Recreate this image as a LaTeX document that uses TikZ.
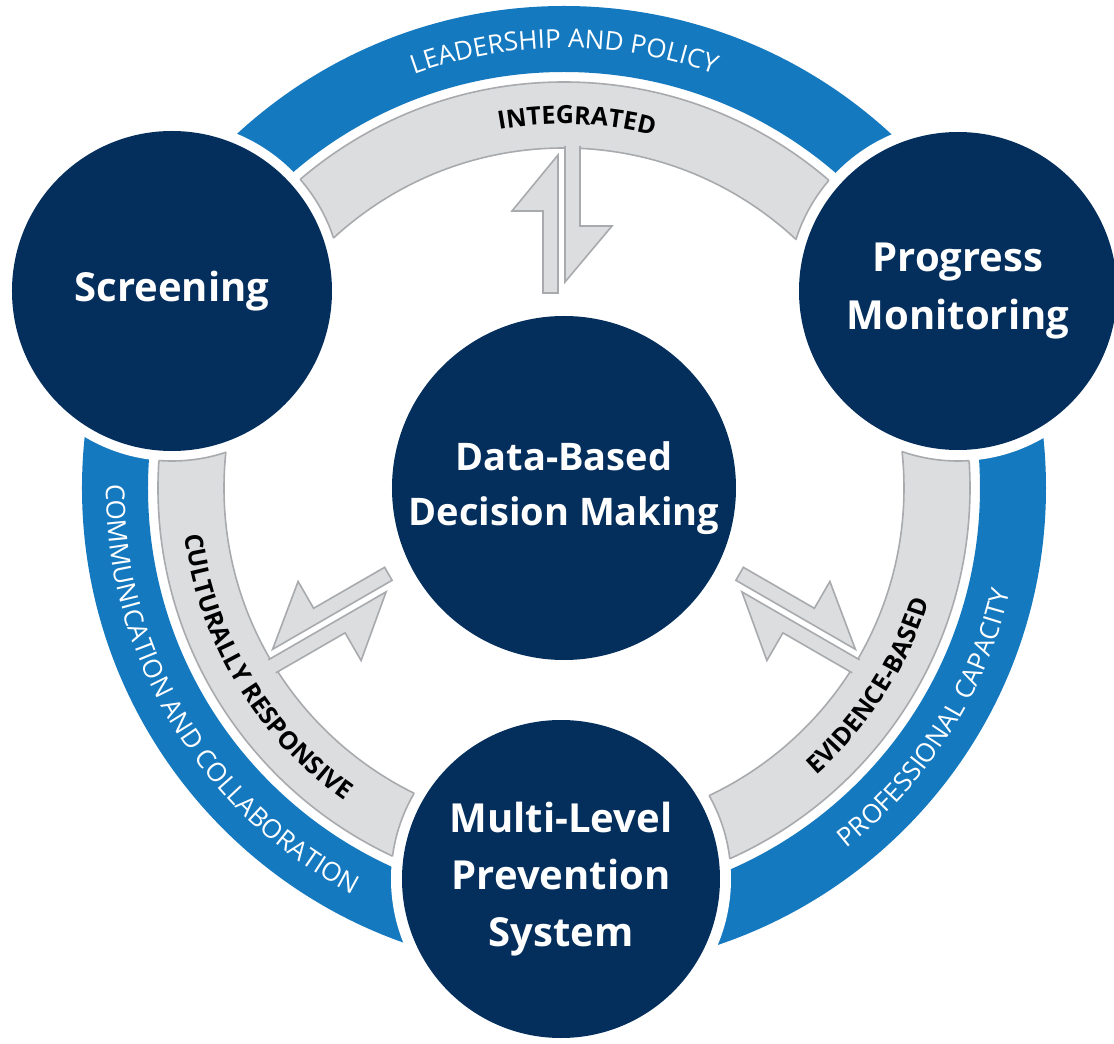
\documentclass[tikz,border=0pt]{standalone}
\usepackage{fontspec}
\setmainfont{Open Sans}
\usepackage{xcolor}
\usetikzlibrary{decorations.text}

\definecolor{azulescuro}{RGB}{4,47,93}
\definecolor{azulfaixa}{RGB}{21,121,192}
\definecolor{cinzafaixa}{RGB}{220,221,222}
\definecolor{cinzalinha}{RGB}{168,170,173}

\tikzset{
  circulo/.style={circle, fill=azulescuro, text=white, align=center, inner sep=0pt,
    font=\bfseries\fontsize{20}{29}\selectfont},
  faixacinza/.style={fill=cinzafaixa, draw=cinzalinha, line width=0.8pt},
  seta/.style={fill=cinzafaixa, draw=cinzalinha, line width=0.8pt},
  setadupla/.pic={
    % seta para fora
    \filldraw[seta] (195,6) -- (333,6) -- (277,52) -- (277,21) -- (195,21) -- cycle;
    % seta para dentro
    \filldraw[seta] (342,-1) -- (206,-1) -- (262,-48) -- (262,-16) -- (342,-16);
  },
}

\begin{document}
\begin{tikzpicture}[x=0.5pt, y=0.5pt]

% Fundo
\useasboundingbox (-564,-556) rectangle (550,488);
\fill[white] (-564,-556) rectangle (550,488);

% Faixa azul
\fill[azulfaixa, even odd rule] (0,0) circle (482) (0,0) circle (416);

% Faixa cinza
\filldraw[faixacinza, even odd rule] (0,0) circle (406) (0,0) circle (340);

% Textos da faixa azul
\path[decorate, decoration={text along path, text align=center, text color=white,
  text={|\fontsize{13}{13}\selectfont|LEADERSHIP AND POLICY}}]
  (130:440) arc[start angle=130, end angle=50, radius=440];
\path[decorate, decoration={text along path, text align=center, text color=white,
  text={|\fontsize{13}{13}\selectfont|COMMUNICATION AND COLLABORATION}}]
  (171:458) arc[start angle=171, end angle=251, radius=458];
\path[decorate, decoration={text along path, text align=center, text color=white,
  text={|\fontsize{13}{13}\selectfont|PROFESSIONAL CAPACITY}}]
  (-72.5:458) arc[start angle=-72.5, end angle=7.5, radius=458];

% Textos da faixa cinza
\path[decorate, decoration={text along path, text align=center,
  text={|\bfseries\fontsize{12.5}{12.5}\selectfont|INTEGRATED}}]
  (128:364) arc[start angle=128, end angle=48, radius=364];
\path[decorate, decoration={text along path, text align=center,
  text={|\bfseries\fontsize{12.5}{12.5}\selectfont|CULTURALLY RESPONSIVE}}]
  (171:382) arc[start angle=171, end angle=251, radius=382];
\path[decorate, decoration={text along path, text align=center,
  text={|\bfseries\fontsize{12.5}{12.5}\selectfont|EVIDENCE-BASED}}]
  (-73:382) arc[start angle=-73, end angle=7, radius=382];

% Espaco branco em volta dos circulos
\fill[white] (-392,197) circle (170) (394,197) circle (170) (-3,-391) circle (170);

% Contorno das pontas da faixa cinza
\begin{scope}[even odd rule]
\clip (0,0) circle (406) (0,0) circle (340);
\draw[cinzalinha, line width=0.8pt] (-392,197) circle (170) (394,197) circle (170) (-3,-391) circle (170);
\end{scope}

% Setas duplas
\pic[rotate=90] at (0,0) {setadupla};
\pic[rotate=330] at (0,0) {setadupla};
\pic[rotate=210, yscale=-1] at (0,0) {setadupla};

% Circulo central
\node[circulo, minimum size=172pt, font=\bfseries\fontsize{19}{27.5}\selectfont] (decisao) at (0,0) {Data-Based\\Decision Making};

% Circulos externos
\node[circulo, minimum size=160pt] (triagem) at (-392,197) {Screening};
\node[circulo, minimum size=159pt] (monitoramento) at (394,197) {Progress\\Monitoring};
\node[circulo, minimum size=159pt, font=\bfseries\fontsize{20}{28.5}\selectfont] (sistema) at (-3,-391) {Multi-Level\\Prevention\\System};

\end{tikzpicture}
\end{document}
